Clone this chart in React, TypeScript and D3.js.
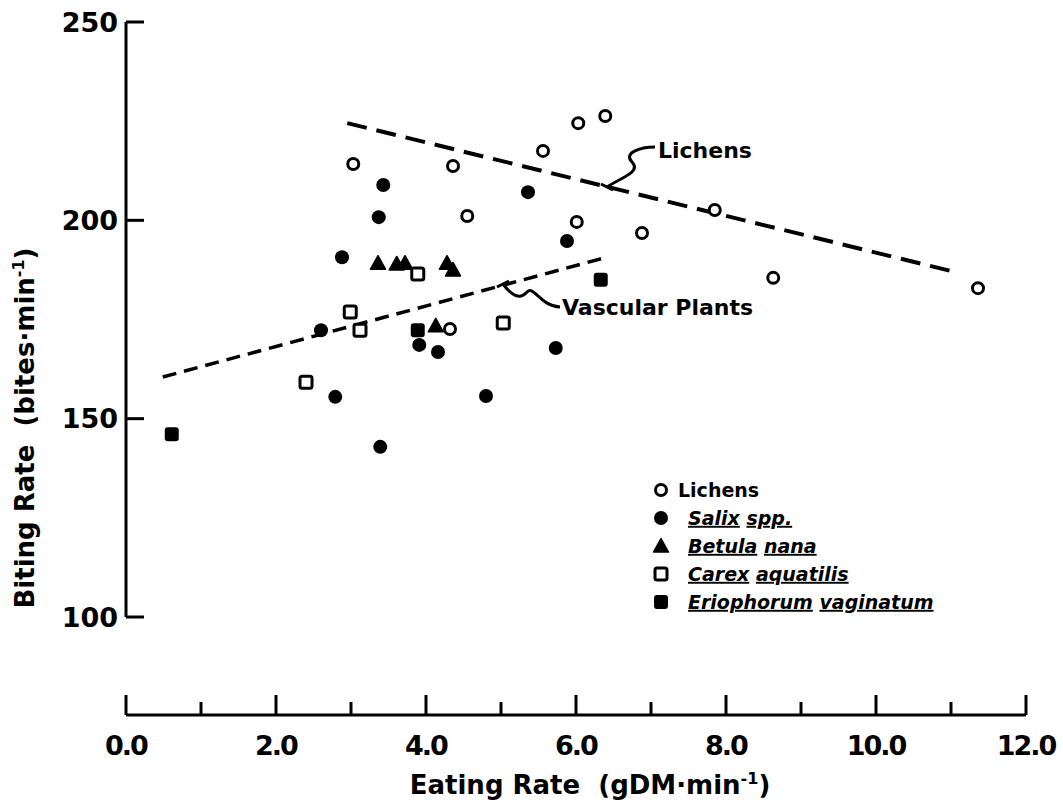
import React from "react";
import * as d3 from "d3";

// values: [eating rate, biting rate]
const lichens: [number, number][] = [
  [3.03, 214.2], [4.36, 213.7], [4.55, 201.1], [5.56, 217.5], [6.03, 224.5],
  [6.39, 226.3], [6.01, 199.6], [6.88, 196.8], [7.85, 202.6], [8.63, 185.5],
  [11.36, 182.9], [4.32, 172.6],
];
const salix: [number, number][] = [
  [3.43, 208.9], [3.37, 200.8], [2.88, 190.7], [5.36, 207.1], [5.88, 194.8],
  [2.6, 172.3], [3.91, 168.6], [4.16, 166.8], [2.79, 155.5], [3.39, 142.9],
  [4.8, 155.7], [5.73, 167.8],
];
const betula: [number, number][] = [
  [3.36, 189.2], [3.61, 189.0], [3.72, 189.2], [4.28, 189.2], [4.36, 187.5], [4.13, 173.4],
];
const carex: [number, number][] = [
  [3.89, 186.5], [2.99, 176.9], [3.12, 172.3], [2.4, 159.2], [5.03, 174.1],
];
const eriophorum: [number, number][] = [
  [6.33, 185.0], [3.89, 172.3], [0.61, 146.1],
];

const lichenFit: [number, number][] = [[2.95, 224.5], [11.05, 187.0]];
const vascularFit: [number, number][] = [[0.49, 160.5], [6.41, 190.7]];

const xTicks = [0, 2, 4, 6, 8, 10, 12];
const xMinor = [1, 3, 5, 7, 9, 11];
const yTicks = [100, 150, 200, 250];

const legendItems = [
  { kind: "open-circle", words: ["Lichens"], italic: false },
  { kind: "circle", words: ["Salix", "spp."], italic: true },
  { kind: "triangle", words: ["Betula", "nana"], italic: true },
  { kind: "open-square", words: ["Carex", "aquatilis"], italic: true },
  { kind: "square", words: ["Eriophorum", "vaginatum"], italic: true },
];

const font = "'DejaVu Sans', sans-serif";

function Marker({ kind, x, y }: { kind: string; x: number; y: number }) {
  if (kind === "open-circle")
    return <circle cx={x} cy={y} r={5.5} fill="white" stroke="black" strokeWidth={3} />;
  if (kind === "circle") return <circle cx={x} cy={y} r={7} fill="black" />;
  if (kind === "triangle")
    return <path d={`M${x},${y - 7.5} L${x + 7.5},${y + 6} L${x - 7.5},${y + 6} Z`} fill="black" stroke="black" strokeWidth={1.5} strokeLinejoin="round" />;
  if (kind === "open-square")
    return <rect x={x - 6} y={y - 6} width={12} height={12} rx={2} fill="white" stroke="black" strokeWidth={3} />;
  return <rect x={x - 7} y={y - 7} width={14} height={14} rx={3} fill="black" />;
}

export default function App() {
  const x = d3.scaleLinear().domain([0, 12]).range([126, 1026]);
  const y = d3.scaleLinear().domain([100, 250]).range([617, 22]);
  const line = d3.line<[number, number]>().x((d) => x(d[0])).y((d) => y(d[1]));
  const axisY = 715;

  const series: [string, [number, number][]][] = [
    ["open-circle", lichens],
    ["circle", salix],
    ["triangle", betula],
    ["open-square", carex],
    ["square", eriophorum],
  ];

  return (
    <svg width={1063} height={806} style={{ position: "absolute", left: 0, top: 0, background: "white" }} fontFamily={font}>
      {/* y axis */}
      <line x1={x(0)} x2={x(0)} y1={y(250)} y2={y(100)} stroke="black" strokeWidth={3} />
      {yTicks.map((t) => (
        <g key={t}>
          <line x1={x(0)} x2={x(0) + 18} y1={y(t)} y2={y(t)} stroke="black" strokeWidth={3} />
          <text x={x(0) - 8} y={y(t)} dy="0.36em" textAnchor="end" fontSize={27} fontWeight="bold">{t}</text>
        </g>
      ))}
      <text transform={`translate(34,${428}) rotate(-90)`} textAnchor="middle" fontSize={26} fontWeight="bold" style={{ whiteSpace: "pre" }}>
        {"Biting Rate  (bites·min"}<tspan dy="-10" fontSize={16}>-1</tspan><tspan dy="10">)</tspan>
      </text>

      {/* x axis */}
      <line x1={x(0)} x2={x(12)} y1={axisY} y2={axisY} stroke="black" strokeWidth={3} />
      {xTicks.map((t) => (
        <g key={t}>
          <line x1={x(t)} x2={x(t)} y1={axisY} y2={axisY - 20} stroke="black" strokeWidth={3} />
          <text x={x(t)} y={axisY + 40} textAnchor="middle" fontSize={27} fontWeight="bold" letterSpacing={-2}>
            {t.toFixed(1)}
          </text>
        </g>
      ))}
      {xMinor.map((t) => (
        <line key={t} x1={x(t)} x2={x(t)} y1={axisY} y2={axisY - 13} stroke="black" strokeWidth={3} />
      ))}
      <text x={590} y={794} textAnchor="middle" fontSize={26} fontWeight="bold" style={{ whiteSpace: "pre" }}>
        {"Eating Rate  (gDM·min"}<tspan dy="-10" fontSize={16}>-1</tspan><tspan dy="10">)</tspan>
      </text>

      {/* regression lines */}
      <path d={line(lichenFit) || ""} fill="none" stroke="black" strokeWidth={4} strokeDasharray="20 10" />
      <path d={line(vascularFit) || ""} fill="none" stroke="black" strokeWidth={3.5} strokeDasharray="14 8" />

      {/* leader labels */}
      <path d="M607,187 C620,178 642,172 632,162 C623,153 640,147 655,147" fill="none" stroke="black" strokeWidth={3} />
      <path d="M601,184 L613,190" stroke="black" strokeWidth={3} />
      <text x={658} y={158} fontSize={22} fontWeight="bold">Lichens</text>
      <path d="M503,284 C512,296 520,300 527,292 C534,285 540,306 560,307" fill="none" stroke="black" strokeWidth={3} />
      <path d="M497,287 L509,281" stroke="black" strokeWidth={3} />
      <text x={562} y={315} fontSize={22} fontWeight="bold">Vascular Plants</text>

      {/* points */}
      {series.map(([kind, pts]) =>
        pts.map((d, i) => <Marker key={kind + i} kind={kind} x={x(d[0])} y={y(d[1])} />)
      )}

      {/* legend */}
      {legendItems.map((item, i) => {
        const ly = 490 + i * 28;
        return (
          <g key={i}>
            <Marker kind={item.kind} x={661} y={ly} />
            <text x={item.italic ? 688 : 678} y={ly} dy="0.36em" fontSize={19} fontWeight="bold" fontStyle={item.italic ? "italic" : "normal"}>
              {item.words.map((w, j) => (
                <React.Fragment key={j}>
                  {j > 0 ? " " : ""}
                  <tspan style={{ textDecoration: item.italic ? "underline" : "none" }}>{w}</tspan>
                </React.Fragment>
              ))}
            </text>
          </g>
        );
      })}
    </svg>
  );
}
